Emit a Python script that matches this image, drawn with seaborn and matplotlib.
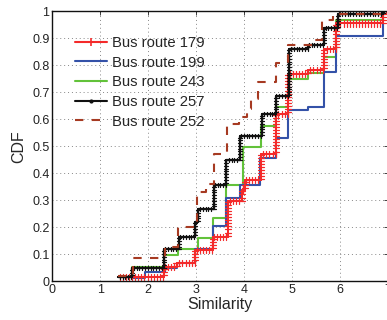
import matplotlib
matplotlib.use("Agg")
import matplotlib.pyplot as plt
import matplotlib.patheffects as pe
from matplotlib.lines import Line2D
import seaborn as sns
import pandas as pd

# ---- data ----
x179 = [1.38, 2.33, 2.59, 2.97, 3.35, 3.67, 3.96, 4.02, 4.35, 4.66, 4.92, 5.33, 5.66, 5.92, 6.89, 7.0]
y179 = [0.015, 0.054, 0.067, 0.115, 0.165, 0.298, 0.34, 0.375, 0.47, 0.618, 0.768, 0.783, 0.859, 0.955, 1.0, 1.0]

x199 = [1.69, 1.93, 2.35, 2.59, 2.97, 3.35, 3.63, 3.91, 4.33, 4.66, 4.92, 5.33, 5.66, 5.92, 6.89, 7.0]
y199 = [0.013, 0.036, 0.048, 0.067, 0.12, 0.205, 0.307, 0.357, 0.455, 0.53, 0.634, 0.644, 0.776, 0.91, 1.0, 1.0]

x243 = [1.38, 1.67, 2.33, 2.63, 3.04, 3.35, 3.63, 3.98, 4.36, 4.66, 4.92, 5.33, 5.66, 5.92, 6.89, 7.0]
y243 = [0.017, 0.054, 0.097, 0.12, 0.159, 0.233, 0.357, 0.496, 0.575, 0.647, 0.748, 0.773, 0.83, 0.968, 1.0, 1.0]

x257 = [1.38, 1.67, 2.33, 2.64, 2.97, 3.04, 3.37, 3.63, 3.91, 4.38, 4.66, 4.94, 5.33, 5.66, 5.96, 6.89, 7.0]
y257 = [0.017, 0.048, 0.118, 0.165, 0.22, 0.267, 0.357, 0.449, 0.538, 0.618, 0.686, 0.859, 0.875, 0.937, 0.99, 1.0, 1.0]

x252 = [1.38, 1.69, 2.35, 2.63, 3.02, 3.2, 3.37, 3.65, 3.9, 4.05, 4.15, 4.28, 4.66, 4.92, 5.42, 5.62, 5.85, 6.89, 7.0]
y252 = [0.02, 0.085, 0.128, 0.2, 0.33, 0.36, 0.47, 0.583, 0.61, 0.64, 0.675, 0.74, 0.808, 0.875, 0.895, 0.968, 0.99, 1.0, 1.0]

labels = ["Bus route 179", "Bus route 199", "Bus route 243", "Bus route 257", "Bus route 252"]
xticks = [0, 1, 2, 3, 4, 5, 6, 7]
yticks = [0, 0.1, 0.2, 0.3, 0.4, 0.5, 0.6, 0.7, 0.8, 0.9, 1]
ytick_labels = ["0", "0.1", "0.2", "0.3", "0.4", "0.5", "0.6", "0.7", "0.8", "0.9", "1"]

# ---- style ----
sns.set_style("white")
plt.rcParams["font.family"] = ["Liberation Sans", "DejaVu Sans"]

fig = plt.figure(figsize=(3.87, 3.20), dpi=100)
ax = fig.add_axes([52.3 / 387, 1 - 281.3 / 320, (388 - 52.3) / 387, 270 / 320])

c_red = "#f42a2a"
c_blue = "#3452a8"
c_green = "#62c23a"
c_black = "#111111"
c_brown = "#a63a22"

red_fx = [pe.withTickedStroke(spacing=2.2, angle=90, length=1.0, linewidth=0.9),
          pe.withTickedStroke(spacing=2.2, angle=-90, length=1.0, linewidth=0.9),
          pe.Normal()]
blk_fx = [pe.withTickedStroke(spacing=2.0, angle=90, length=0.7, linewidth=0.9),
          pe.withTickedStroke(spacing=2.0, angle=-90, length=0.7, linewidth=0.9),
          pe.Normal()]

series = [
    (x243, y243, dict(color=c_green, linewidth=1.5)),
    (x199, y199, dict(color=c_blue, linewidth=1.5)),
    (x179, y179, dict(color=c_red, linewidth=1.4, path_effects=red_fx)),
    (x257, y257, dict(color=c_black, linewidth=1.5, path_effects=blk_fx)),
    (x252, y252, dict(color=c_brown, linewidth=1.5, linestyle=(0, (4, 4)))),
]
for xs, ys, kw in series:
    df = pd.DataFrame({"x": xs, "y": ys})
    sns.lineplot(data=df, x="x", y="y", ax=ax, drawstyle="steps-post",
                 estimator=None, legend=False, **kw)

ax.set_xlim(0, 7)
ax.set_ylim(0, 1)
ax.set_xticks(xticks)
ax.set_xticklabels([str(t) for t in xticks])
ax.set_yticks(yticks)
ax.set_yticklabels(ytick_labels)
ax.tick_params(direction="in", length=3, width=0.6, top=True, right=True,
               labelsize=9, colors="#222222", pad=2)
ax.grid(True, linestyle=(0, (1, 3)), color="#888888", linewidth=0.7)
for s in ax.spines.values():
    s.set_color("#111111")
    s.set_linewidth(1.0)
ax.set_xlabel("Similarity", fontsize=11.5, labelpad=1)
ax.set_ylabel("CDF", fontsize=11.5, labelpad=4)

handles = [
    Line2D([], [], color=c_red, lw=1.5, marker="+", ms=6, mew=1.2),
    Line2D([], [], color=c_blue, lw=1.5),
    Line2D([], [], color=c_green, lw=1.5),
    Line2D([], [], color=c_black, lw=1.5, marker=".", ms=4),
    Line2D([], [], color=c_brown, lw=1.5, linestyle=(0, (4, 4))),
]
leg = ax.legend(handles, labels, loc="upper left", frameon=False,
                bbox_to_anchor=(75 / 387, 1 - 36 / 320), bbox_transform=fig.transFigure,
                borderpad=0, borderaxespad=0, fontsize=10.7,
                handlelength=2.15, handletextpad=0.35, labelspacing=0.38)

fig.savefig("out.png", dpi=100)
